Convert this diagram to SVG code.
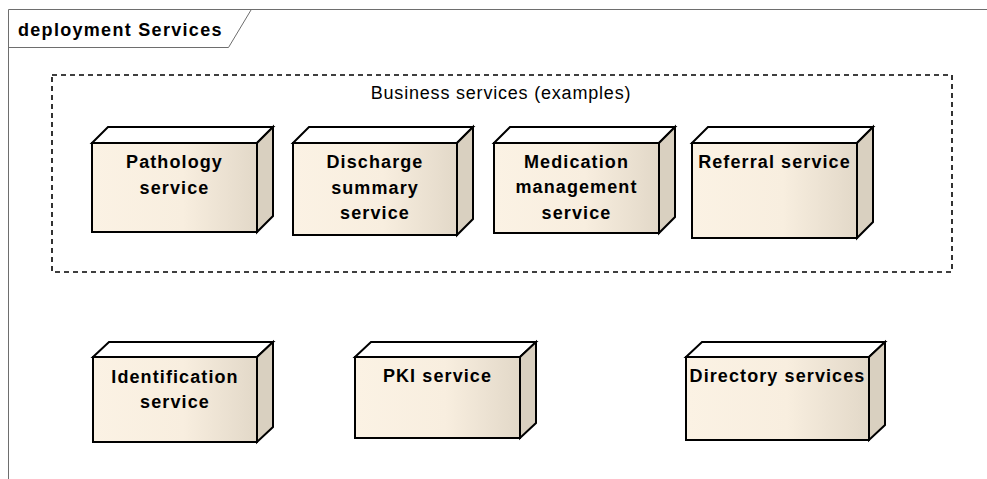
<svg xmlns="http://www.w3.org/2000/svg" width="987" height="479" viewBox="0 0 987 479">
<defs>
<linearGradient id="front" x1="0" y1="0" x2="1" y2="0">
<stop offset="0" stop-color="#FBF2E4"/>
<stop offset="0.55" stop-color="#F8EEDF"/>
<stop offset="1" stop-color="#E2D8C8"/>
</linearGradient>
<style>
.frame{fill:none;stroke:#6E6E6E;stroke-width:1}
.dash{fill:none;stroke:#000;stroke-width:1.6;stroke-dasharray:5 4}
.f{fill:url(#front);stroke:#000;stroke-width:2}
.t{fill:#FFFFFF;stroke:#000;stroke-width:2;stroke-linejoin:miter}
.s{fill:#D9D0C0;stroke:#000;stroke-width:2;stroke-linejoin:miter}
.lbl{font-family:"Liberation Sans",Arial,sans-serif;font-weight:bold;font-size:18px;letter-spacing:1.1px;fill:#000;text-anchor:middle}
.title{font-family:"Liberation Sans",Arial,sans-serif;font-weight:bold;font-size:18px;letter-spacing:1.3px;fill:#000}
.reg{font-family:"Liberation Sans",Arial,sans-serif;font-size:18px;letter-spacing:0.8px;fill:#000;text-anchor:middle}
</style>
</defs>
<rect x="0" y="0" width="987" height="479" fill="#FFFFFF"/>
<g id="frame">
<path class="frame" d="M8.5 479 V9.5 H987"/>
<path class="frame" d="M8.5 47.5 H228.5 L251 10"/>
<text class="title" x="18" y="36">deployment Services</text>
</g>
<g id="business-services">
<rect class="dash" x="52" y="75" width="900" height="197"/>
<text class="reg" x="501" y="99">Business services (examples)</text>
</g>
<g id="pathology">
<polygon class="t" points="92,143 108,127 273,127 257,143"/>
<polygon class="s" points="257,143 273,127 273,216 257,232"/>
<rect class="f" x="92" y="143" width="165" height="89"/>
<text class="lbl" x="174.5" y="168">Pathology</text>
<text class="lbl" x="174.5" y="194">service</text>
</g>
<g id="discharge">
<polygon class="t" points="293,143 309,127 473,127 457,143"/>
<polygon class="s" points="457,143 473,127 473,219 457,235"/>
<rect class="f" x="293" y="143" width="164" height="92"/>
<text class="lbl" x="375" y="168">Discharge</text>
<text class="lbl" x="375" y="194">summary</text>
<text class="lbl" x="375" y="219">service</text>
</g>
<g id="medication">
<polygon class="t" points="494,143 510,127 675,127 659,143"/>
<polygon class="s" points="659,143 675,127 675,217 659,233"/>
<rect class="f" x="494" y="143" width="165" height="90"/>
<text class="lbl" x="576.5" y="168">Medication</text>
<text class="lbl" x="576.5" y="193">management</text>
<text class="lbl" x="576.5" y="219">service</text>
</g>
<g id="referral">
<polygon class="t" points="692,143 708,127 873,127 857,143"/>
<polygon class="s" points="857,143 873,127 873,222 857,238"/>
<rect class="f" x="692" y="143" width="165" height="95"/>
<text class="lbl" x="774.5" y="168">Referral service</text>
</g>
<g id="identification">
<polygon class="t" points="93,357 109,342 273,342 257,357"/>
<polygon class="s" points="257,357 273,342 273,427 257,442"/>
<rect class="f" x="93" y="357" width="164" height="85"/>
<text class="lbl" x="175" y="383">Identification</text>
<text class="lbl" x="175" y="408">service</text>
</g>
<g id="pki">
<polygon class="t" points="355,357 371,342 536,342 520,357"/>
<polygon class="s" points="520,357 536,342 536,423 520,438"/>
<rect class="f" x="355" y="357" width="165" height="81"/>
<text class="lbl" x="437.5" y="382">PKI service</text>
</g>
<g id="directory">
<polygon class="t" points="686,357 702,342 885,342 869,357"/>
<polygon class="s" points="869,357 885,342 885,425 869,440"/>
<rect class="f" x="686" y="357" width="183" height="83"/>
<text class="lbl" x="777.5" y="382">Directory services</text>
</g>
<g id="connectors"/>
</svg>
